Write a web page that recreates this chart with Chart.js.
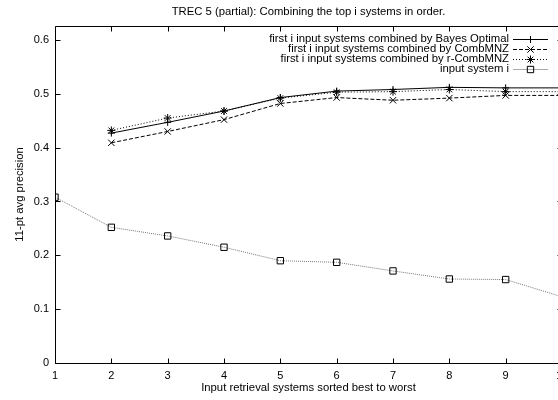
<!DOCTYPE html>
<html>
<head>
<meta charset="utf-8">
<script src="https://cdn.jsdelivr.net/npm/chart.js@4.4.1/dist/chart.umd.min.js"></script>
<style>
  html, body { margin: 0; padding: 0; background: #fff; overflow: hidden; width: 558px; height: 400px; }
  canvas { display: block; }
</style>
</head>
<body>
<canvas id="c" width="580" height="400"></canvas>
<script>
// ---- data ----
const categories = [1, 2, 3, 4, 5, 6, 7, 8, 9, 10];
const bayesOptimal = [null, 0.427, 0.447, 0.468, 0.493, 0.505, 0.508, 0.512, 0.511, 0.511];
const combMNZ      = [null, 0.409, 0.430, 0.452, 0.482, 0.493, 0.488, 0.492, 0.497, 0.497];
const rCombMNZ     = [null, 0.432, 0.455, 0.468, 0.492, 0.503, 0.504, 0.508, 0.504, 0.504];
const inputSystem  = [0.308, 0.252, 0.236, 0.215, 0.190, 0.187, 0.171, 0.156, 0.155, 0.123];
const seriesLabels = [
  'first i input systems combined by Bayes Optimal',
  'first i input systems combined by CombMNZ',
  'first i input systems combined by r-CombMNZ',
  'input system i'
];
const xTicks = [1, 2, 3, 4, 5, 6, 7, 8, 9, 10];
const yTicks = [0, 0.1, 0.2, 0.3, 0.4, 0.5, 0.6];
const yTickLabels = ['0', '0.1', '0.2', '0.3', '0.4', '0.5', '0.6'];
const titleText = 'TREC 5 (partial): Combining the top i systems in order.';
const xTitle = 'Input retrieval systems sorted best to worst';
const yTitle = '11-pt avg precision';

const FONT = "'Liberation Sans', Arial, Helvetica, sans-serif";

function pts(arr) {
  return categories.map((c, i) => ({ x: c, y: arr[i] })).filter(p => p.y !== null);
}

const datasets = [
  { label: seriesLabels[0], data: pts(bayesOptimal), borderColor: '#000', borderWidth: 1,
    pointStyle: 'cross', pointRadius: 3.5, pointBorderWidth: 1, pointBorderColor: '#000', backgroundColor: 'transparent',
    keyColor: '#000', keyDash: [] },
  { label: seriesLabels[1], data: pts(combMNZ), borderColor: '#000', borderWidth: 1, borderDash: [4, 2],
    pointStyle: 'crossRot', pointRadius: 4.5, pointBorderWidth: 1, pointBorderColor: '#000', backgroundColor: 'transparent',
    keyColor: '#000', keyDash: [4, 2] },
  { label: seriesLabels[2], data: pts(rCombMNZ), borderColor: '#000', borderWidth: 1, borderDash: [1, 2],
    pointStyle: 'star', pointRadius: 4, pointBorderWidth: 1, pointBorderColor: '#000', backgroundColor: 'transparent',
    keyColor: '#000', keyDash: [1, 2] },
  { label: seriesLabels[3], data: pts(inputSystem), borderColor: '#777', borderWidth: 1, borderDash: [1, 1],
    pointStyle: 'rect', pointRadius: 4.5, pointBorderWidth: 1, pointBorderColor: '#000', backgroundColor: 'transparent',
    keyColor: '#aaa', keyDash: [] }
];

const framePlugin = {
  id: 'frame',
  afterDatasetsDraw(chart) {
    const { ctx, chartArea: a, scales: { x, y } } = chart;
    ctx.save();
    ctx.strokeStyle = '#000';
    ctx.lineWidth = 1;
    ctx.setLineDash([]);
    const L = Math.round(a.left) + 0.5, R = Math.round(a.right) + 0.5;
    const T = Math.round(a.top) + 0.5, B = Math.round(a.bottom) + 0.5;
    ctx.beginPath();
    ctx.rect(L, T, R - L, B - T);
    const tl = 5;
    yTicks.forEach(v => {
      const py = Math.round(y.getPixelForValue(v)) + 0.5;
      ctx.moveTo(L, py); ctx.lineTo(L + tl, py);
      ctx.moveTo(R, py); ctx.lineTo(R - tl, py);
    });
    xTicks.forEach(v => {
      const px = Math.round(x.getPixelForValue(v)) + 0.5;
      ctx.moveTo(px, B); ctx.lineTo(px, B - tl);
      ctx.moveTo(px, T); ctx.lineTo(px, T + tl);
    });
    ctx.stroke();

    // key (top right, gnuplot style)
    ctx.font = '11.3px ' + FONT;
    ctx.textAlign = 'right';
    ctx.textBaseline = 'middle';
    chart.data.datasets.forEach((ds, i) => {
      const ry = 39 + i * 9.9;
      const ly = Math.round(ry) + 0.5;
      ctx.fillStyle = '#000';
      ctx.fillText(ds.label, a.right - 53, ry);
      ctx.beginPath();
      ctx.strokeStyle = ds.keyColor;
      ctx.setLineDash(ds.keyDash);
      ctx.moveTo(a.right - 49, ly);
      ctx.lineTo(a.right - 14, ly);
      ctx.stroke();
      ctx.setLineDash([]);
      ctx.strokeStyle = '#000';
      ctx.fillStyle = 'rgba(0,0,0,0)';
      Chart.helpers.drawPoint(ctx, {
        pointStyle: ds.pointStyle, radius: ds.pointRadius, borderWidth: 1, rotation: 0
      }, a.right - 31.5, ly);
    });
    ctx.restore();
  }
};

new Chart(document.getElementById('c'), {
  type: 'line',
  data: { datasets },
  options: {
    responsive: false,
    animation: false,
    devicePixelRatio: 1,
    layout: { padding: { left: 0, right: 18, top: 0, bottom: 0 } },
    plugins: {
      legend: { display: false },
      tooltip: { enabled: false },
      title: {
        display: true, text: titleText, color: '#000', fullSize: false,
        font: { family: FONT, size: 11.3, weight: 'normal', lineHeight: 1.2 },
        padding: { top: 5, bottom: 7.4 }
      }
    },
    scales: {
      x: {
        type: 'linear', min: 1, max: 10,
        afterBuildTicks: s => { s.ticks = xTicks.map(v => ({ value: v })); },
        afterFit: s => { s.height = 37; },
        grid: { display: false, drawTicks: false },
        border: { display: false },
        ticks: { color: '#000', padding: 6, maxRotation: 0, autoSkip: false,
          font: { family: FONT, size: 11 }, callback: v => String(v) },
        title: { display: true, text: xTitle, color: '#000',
          font: { family: FONT, size: 11.3, lineHeight: 1.2 }, padding: { top: 0, bottom: 5.2 } }
      },
      y: {
        type: 'linear', min: 0, max: 0.626,
        afterBuildTicks: s => { s.ticks = yTicks.map(v => ({ value: v })); },
        afterFit: s => { s.width = 55; },
        grid: { display: false, drawTicks: false },
        border: { display: false },
        ticks: { color: '#000', padding: 6, autoSkip: false,
          font: { family: FONT, size: 11 },
          callback: (v) => { const i = yTicks.findIndex(t => Math.abs(t - v) < 1e-9); return i >= 0 ? yTickLabels[i] : ''; } },
        title: { display: true, text: yTitle, color: '#000',
          font: { family: FONT, size: 11.3, lineHeight: 1.2 }, padding: { top: 13.2, bottom: 0 } }
      }
    }
  },
  plugins: [framePlugin]
});
</script>
</body>
</html>
